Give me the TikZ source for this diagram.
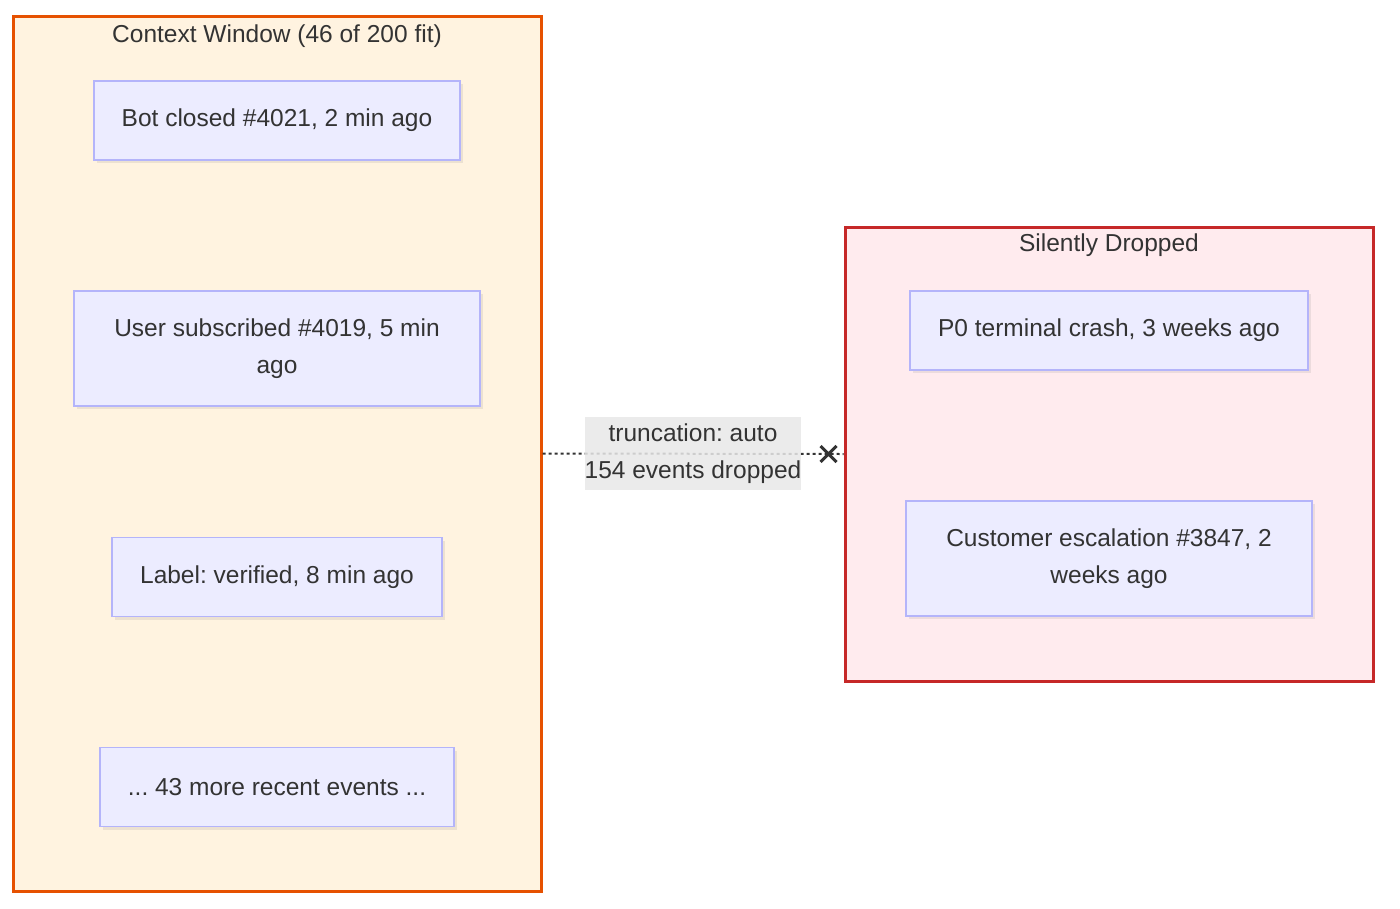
\documentclass[tikz,border=0pt]{standalone}
\usepackage{fontspec}
\setmainfont{Liberation Sans}
\usepackage{xcolor}
\usepackage{tikz}
\usetikzlibrary{positioning, shadows}
\frenchspacing
\definecolor{mytext}{RGB}{51,51,51}
\definecolor{myorange}{RGB}{230,81,0}
\definecolor{myred}{RGB}{198,40,40}
\definecolor{mylav}{RGB}{180,180,250}
\definecolor{hdrorange}{RGB}{255,243,224}
\definecolor{hdrred}{RGB}{255,235,238}
\definecolor{hdrlav}{RGB}{236,236,255}
\definecolor{hdrgrey}{RGB}{232,232,232}
\tikzset{
  ctxwin/.style={rectangle, draw=myorange, fill=hdrorange,
    line width=3pt, minimum width=528, minimum height=875},
  dropwin/.style={rectangle, draw=myred, fill=hdrred,
    line width=3pt, minimum width=528, minimum height=454},
  wintitle/.style={text=mytext, font=\fontsize{24.5}{37}\selectfont},
  event/.style={rectangle, draw=mylav, fill=hdrlav, align=center,
    minimum height=79, text=mytext, font=\fontsize{24.5}{37}\selectfont,
    line width=1.5pt, drop shadow={shadow xshift=3pt, shadow yshift=-3pt,
    opacity=0.15}},
  trunclabel/.style={rectangle, fill=hdrgrey, fill opacity=0.85, text opacity=1,
    align=center, inner xsep=0pt, minimum width=216, minimum height=73,
    text=mytext, font=\fontsize{24.5}{37}\selectfont},
  trunc/.style={line width=2pt, color=mytext, dash pattern=on 3pt off 3pt},
  cut/.style={line width=3pt, color=mytext}
}
\begin{document}
\begin{tikzpicture}[x=1pt, y=-1pt]
  \useasboundingbox (0,0) rectangle (1400,908);

  % Windows
  \node[ctxwin] (ctx) at (277,453.5) {};
  \node[dropwin] (drop) at (1109,454) {};
  \node[wintitle] (ctxtitle) at (277,36) {Context Window (46 of 200 fit)};
  \node[wintitle] (droptitle) at (1109,245) {Silently Dropped};

  % Events kept
  \node[event, minimum width=366] (bot) at (277,120.5) {Bot closed \#4021, 2 min ago};
  \node[event, minimum width=406, minimum height=115] (sub) at (277,348.5) {User subscribed \#4019, 5 min\\ago};
  \node[event, minimum width=330] (lbl) at (277,577) {Label: verified, 8 min ago};
  \node[event, minimum width=354] (more) at (277,787) {... 43 more recent events ...};

  % Events dropped
  \node[event, minimum width=398] (crash) at (1109,330.5) {P0 terminal crash, 3 weeks ago};
  \node[event, minimum width=406, minimum height=115] (esc) at (1109,558.5) {Customer escalation \#3847, 2\\weeks ago};

  % Truncation
  \draw[trunc] (ctx.east) -- (drop.west)
    node[trunclabel, pos=0.5] (cutlabel) {truncation: auto\\154 events dropped};
  \coordinate[left=15pt of drop.west] (cutmark);
  \draw[cut] (cutmark) +(-8,-8) -- +(8,8) +(-8,8) -- +(8,-8);
\end{tikzpicture}
\end{document}
